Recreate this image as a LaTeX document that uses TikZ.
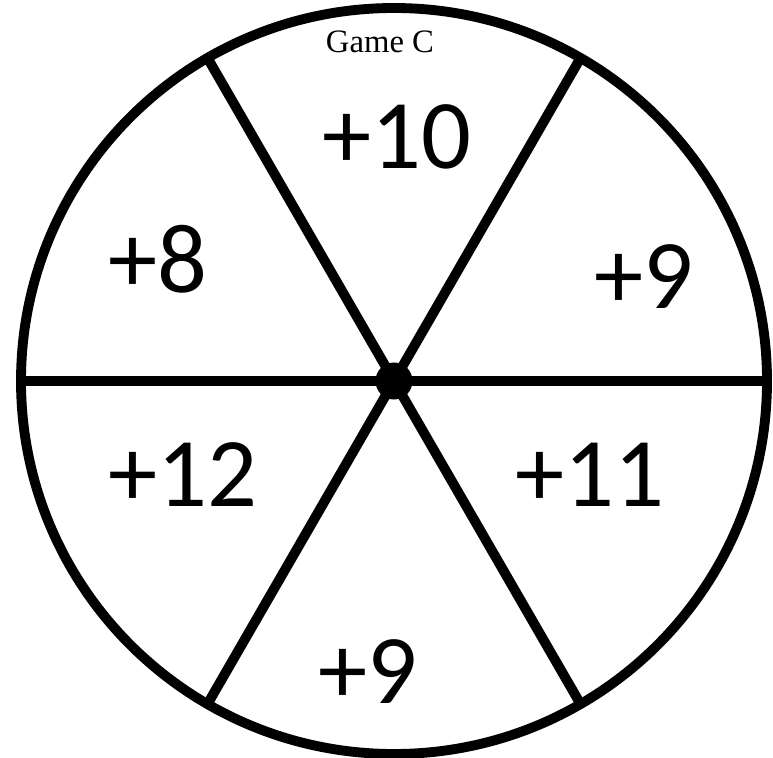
\documentclass[tikz,border=0pt]{standalone}
\usepackage{fontspec}
\newfontfamily\numfont{Carlito}
\newfontfamily\titlefont{Liberation Serif}
\usetikzlibrary{calc, positioning}

\begin{document}
\begin{tikzpicture}[x=0.01cm,y=-0.01cm,
  rimline/.style={line width=2.8pt,black},
  prize/.style={font=\numfont\fontsize{28}{30}\selectfont,inner sep=0pt}]
\useasboundingbox (0,0) rectangle (773,758);
\def\rad{373}
\coordinate (O) at (394,381);
\draw[rimline] (O) circle[radius=\rad];
\foreach \ang/\nm in {0/E,60/NE,120/NW,180/W,240/SW,300/SE}{
  \coordinate (\nm) at ($(O)+(\ang:\rad)$);
  \draw[rimline] (O) -- (\nm);
}
\node[circle,fill=black,inner sep=0pt,minimum size=0.37cm] (hub) at (O) {};
\node[font=\titlefont\fontsize{9.3}{11}\selectfont,inner sep=0pt] (title) at (380,42) {Game C};
\node[prize] (top) at (397,137) {+10};
\node[prize] (upleft) at (158,259) {+8};
\node[prize] (upright) at (644,277) {+9};
\node[prize] (lowleft) at (183,475) {+12};
\node[prize] (lowright) at (590,475) {+11};
\node[prize] (bottom) at (368,672) {+9};
\end{tikzpicture}
\end{document}
